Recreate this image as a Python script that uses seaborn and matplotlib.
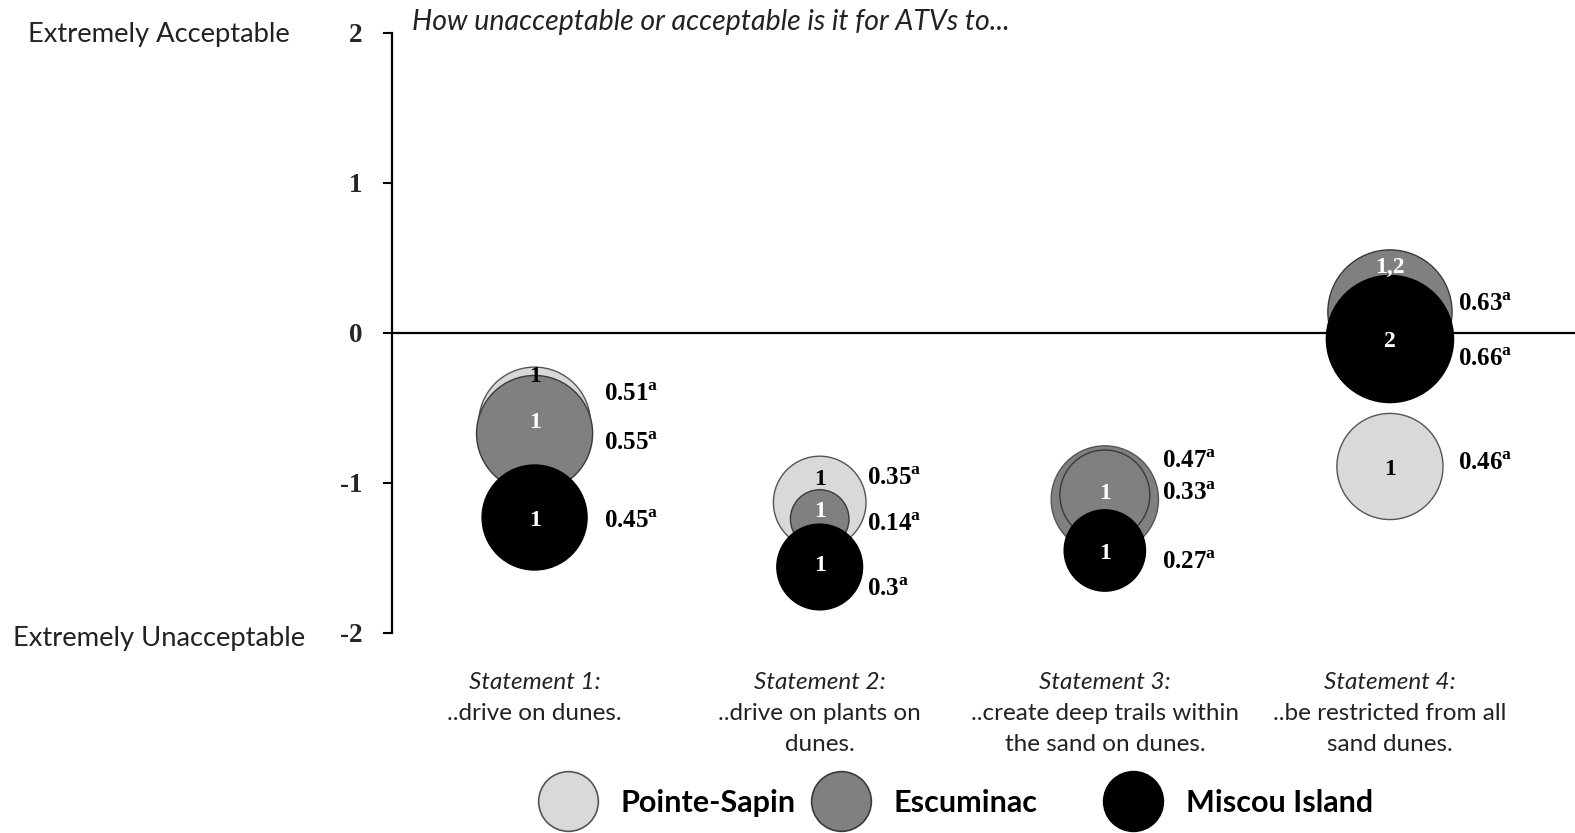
import matplotlib
matplotlib.use("Agg")
import matplotlib.pyplot as plt
from matplotlib.lines import Line2D
import seaborn as sns
import pandas as pd

# --- Dane ---
statements = [1, 2, 3, 4]
statement_heads = ["Statement 1:", "Statement 2:", "Statement 3:", "Statement 4:"]
statement_texts = [["..drive on dunes."],
                   ["..drive on plants on", "dunes."],
                   ["..create deep trails within", "the sand on dunes."],
                   ["..be restricted from all", "sand dunes."]]
sites = ["Pointe-Sapin", "Escuminac", "Miscou Island"]

# srednia akceptowalnosc (srodek babelka)
mean_pointe = [-0.60, -1.13, -1.11, -0.89]
mean_escum = [-0.67, -1.24, -1.08, 0.14]
mean_miscou = [-1.23, -1.56, -1.45, -0.04]

# wartosc wielkosci babelka (podpis obok)
size_pointe = [0.51, 0.35, 0.47, 0.46]
size_escum = [0.55, 0.14, 0.33, 0.63]
size_miscou = [0.45, 0.30, 0.27, 0.66]

# grupy w srodku babelkow
grp_pointe = ["1", "1", "", "1"]
grp_escum = ["1", "1", "1", "1,2"]
grp_miscou = ["1", "1", "1", "2"]

ytick_values = [-2, -1, 0, 1, 2]
ytick_labels = ["-2", "-1", "0", "1", "2"]

# --- Uklad / styl ---
# gdzie stoja podpisy (tak jak na oryginale)
grp_label_y = {"Pointe-Sapin": [-0.29, -0.98, -1.11, -0.91],
               "Escuminac": [-0.60, -1.19, -1.07, 0.44],
               "Miscou Island": [-1.25, -1.55, -1.47, -0.06]}
val_label_y = {"Pointe-Sapin": [-0.41, -0.97, -0.86, -0.87],
               "Escuminac": [-0.74, -1.28, -1.07, 0.19],
               "Miscou Island": [-1.26, -1.71, -1.53, -0.18]}
val_label_dx = [0.245, 0.166, 0.20, 0.238]

fills = {"Pointe-Sapin": "#d9d9d9", "Escuminac": "#808080", "Miscou Island": "#000000"}
edges = {"Pointe-Sapin": "#555555", "Escuminac": "#3a3a3a", "Miscou Island": "#000000"}
grp_colors = {"Pointe-Sapin": "black", "Escuminac": "white", "Miscou Island": "white"}
S_MAX = 12700  # pole markera (pt^2) dla wartosci 1.0
SANS = "Lato"
SERIF = "Liberation Serif"
TXT = "#222222"

sns.set_theme(style="white")
plt.rcParams["mathtext.fontset"] = "custom"
plt.rcParams["mathtext.rm"] = SERIF
plt.rcParams["mathtext.bf"] = SERIF + ":bold"
plt.rcParams["text.color"] = "black"

rows = []
for site, means, sizes, grps in zip(sites,
                                    [mean_pointe, mean_escum, mean_miscou],
                                    [size_pointe, size_escum, size_miscou],
                                    [grp_pointe, grp_escum, grp_miscou]):
    for st, m, s, g in zip(statements, means, sizes, grps):
        rows.append({"site": site, "statement": st, "mean": m, "spread": s, "group": g})
df = pd.DataFrame(rows)

fig = plt.figure(figsize=(15.75, 8.33), dpi=100)
ax = fig.add_axes([0.2489, 0.2401, 0.7511, 0.7203])

ax.axhline(0, color="black", lw=1.6, zorder=1)

for k, site in enumerate(sites):
    sub = df[df["site"] == site]
    sns.scatterplot(data=sub, x="statement", y="mean", size="spread",
                    sizes=(0, S_MAX), size_norm=(0, 1),
                    color=fills[site], edgecolor=edges[site], linewidth=1.0,
                    legend=False, zorder=2 + k, ax=ax)
    if site == "Pointe-Sapin":
        # na oryginale babelek Pointe-Sapin przy stwierdzeniu 3 jest szary
        coll = ax.collections[-1]
        coll.set_facecolor([fills["Escuminac"] if st == 3 else fills[site]
                            for st in sub["statement"]])

    for i, r in enumerate(sub.itertuples()):
        if r.group:
            ax.text(r.statement, grp_label_y[site][i], r.group, ha="center", va="center",
                    color=grp_colors[site], fontsize=17, family=SERIF,
                    fontweight="bold", zorder=10)
        ax.text(r.statement + val_label_dx[i], val_label_y[site][i],
                f"{r.spread:g}" + r"$^{\mathbf{a}}$", ha="left", va="center",
                fontsize=18, family=SERIF, fontweight="bold", zorder=10)

ax.set_xlim(0.5, 4.649)
ax.set_ylim(-2, 2)
ax.set_xticks([])
ax.set_yticks(ytick_values)
ax.set_yticklabels(ytick_labels, fontsize=19.5, family=SERIF, fontweight="bold")
ax.tick_params(axis="y", direction="out", length=6.5, width=1.5, pad=15,
               left=True, color="black")
ax.set_xlabel("")
ax.set_ylabel("")
for side in ["top", "right", "bottom"]:
    ax.spines[side].set_visible(False)
ax.spines["left"].set_color("black")
ax.spines["left"].set_linewidth(1.6)

# opisy stwierdzen pod osia (kazda linia osobno, co 31 px)
trans = ax.get_xaxis_transform()
line_step = 31 / 600
for st, head, lines in zip(statements, statement_heads, statement_texts):
    ax.text(st, -0.093, head, transform=trans, ha="center", va="baseline",
            fontsize=17.5, family=SANS, style="italic", color=TXT)
    for j, line in enumerate(lines):
        ax.text(st, -0.145 - j * line_step, line, transform=trans, ha="center",
                va="baseline", fontsize=17.5, family=SANS, color=TXT)

fig.text(28 / 1575, 1 - 42 / 833, "Extremely Acceptable", ha="left", va="baseline",
         fontsize=19.7, family=SANS, color=TXT)
fig.text(13 / 1575, 1 - 646 / 833, "Extremely Unacceptable", ha="left", va="baseline",
         fontsize=19.7, family=SANS, color=TXT)
fig.text(412 / 1575, 1 - 30 / 833, "How unacceptable or acceptable is it for ATVs to...",
         ha="left", va="baseline", fontsize=20.5, family=SANS, style="italic",
         color=TXT)

# legenda - trzy osobne wpisy jak na oryginale
legend_x = [538 / 1575, 811 / 1575, 1103 / 1575]
for site, x0 in zip(sites, legend_x):
    h = Line2D([], [], marker="o", ls="", markersize=43,
               markerfacecolor=fills[site], markeredgecolor=edges[site],
               markeredgewidth=1.2)
    fig.legend([h], [site], loc="center left", bbox_to_anchor=(x0, 0.036),
               frameon=False, borderpad=0, borderaxespad=0,
               handlelength=43 / 22, handletextpad=0.75,
               prop=dict(family=SANS, weight="bold", size=22))

fig.savefig("out.png", dpi=100)
